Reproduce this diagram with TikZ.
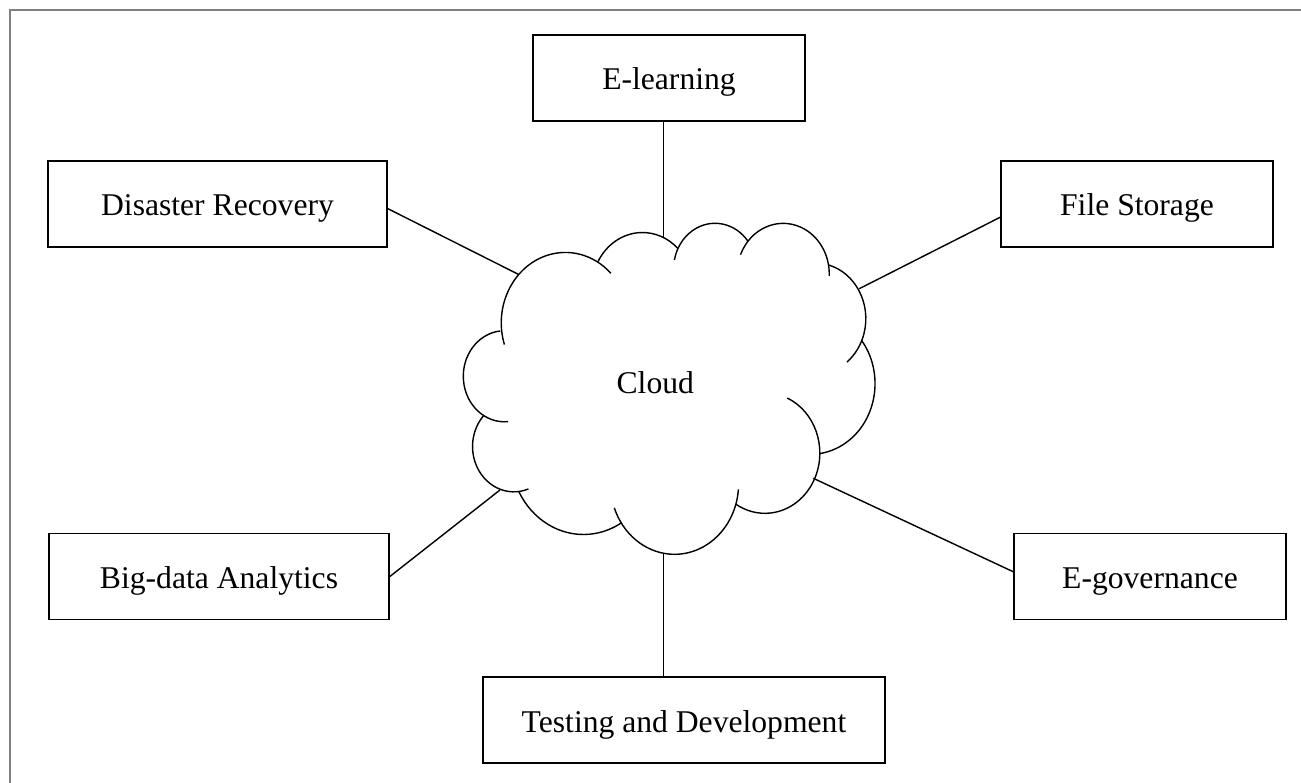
\documentclass[tikz,border=0pt]{standalone}
\usepackage{fontspec}
\setmainfont{Liberation Serif}
\begin{document}
\begin{tikzpicture}[
    box/.style={draw, line width=0.5pt, inner sep=0pt, minimum height=0.86cm,
        text height=6.75pt, text depth=0pt, font=\fontsize{9}{11}\selectfont},
    label/.style={inner sep=0pt, text height=6.75pt, text depth=0pt,
        font=\fontsize{9}{11}\selectfont},
    puff/.style={line width=0.4pt},
    link/.style={line width=0.4pt}]
    \useasboundingbox (0,0) rectangle (13.01,-7.83);

    % Page frame
    \draw[gray, line width=0.6pt] (0.1,-7.95) -- (0.1,-0.1) -- (13.1,-0.1);

    % Application boxes
    \node[box, minimum width=2.72cm] (elearn) at (6.69,-0.78) {E-learning};
    \node[box, minimum width=3.39cm] (disaster) at (2.175,-2.04) {Disaster Recovery};
    \node[box, minimum width=2.72cm] (filestore) at (11.37,-2.04) {File Storage};
    \node[box, minimum width=3.40cm] (bigdata) at (2.19,-5.765) {Big-data Analytics};
    \node[box, minimum width=2.72cm] (egov) at (11.50,-5.765) {E-governance};
    \node[box, minimum width=4.02cm] (testing) at (6.84,-7.202) {Testing and Development};

    % Cloud outline, one elliptic arc per puff
    \begin{scope}[shift={(4.6485,-2.2226)}, x=0.009491cm, y=-0.00766cm]
        \foreach \cx/\cy/\rx/\ry/\ta/\tb in {
            105.91/131.31/67.53/91.90/162/315.3,
            187.15/86.07/53.33/72.67/-152.05/-45.45,
            263.62/60.81/43.65/59.45/-168.7/-37.33,
            335.38/67.40/48.57/65.95/-157.6/2.4,
            369.17/125.89/53.33/72.73/-74.77/51.1,
            364.45/210.70/67.75/92.20/-37.53/81.86,
            316.19/301.34/57.85/78.67/-66/121.98,
            220.93/341.37/67.52/92.15/4.6/160,
            125.02/302.22/77.20/105.43/58.98/152.11,
            51.71/292.77/43.60/59.18/69.5/223.08,
            41.82/201.07/43.45/59.45/85/264.11}
            \draw[puff] (\cx,\cy) ++({\rx*cos(\ta)},{\ry*sin(\ta)})
                arc[start angle=\ta, end angle=\tb, x radius=\rx, y radius=\ry];
    \end{scope}
    \node[label] (cloud) at (6.553,-3.813) {Cloud};

    % Where the links meet the cloud
    \coordinate (cl-top) at (6.633,-2.377);
    \coordinate (cl-nw) at (5.183,-2.743);
    \coordinate (cl-ne) at (8.593,-2.887);
    \coordinate (cl-sw) at (5.00,-4.90);
    \coordinate (cl-se) at (8.133,-4.783);
    \coordinate (cl-bot) at (6.633,-5.543);

    % Links
    \draw[link] (cl-top) -- (cl-top |- elearn.south);
    \draw[link] (cl-nw) -- ([yshift=-0.47mm]disaster.east);
    \draw[link] (cl-ne) -- ([yshift=-1.33mm]filestore.west);
    \draw[link] (cl-sw) -- (bigdata.east);
    \draw[link] (cl-se) -- ([yshift=0.48mm]egov.west);
    \draw[link] (cl-bot) -- (cl-bot |- testing.north);
\end{tikzpicture}
\end{document}
